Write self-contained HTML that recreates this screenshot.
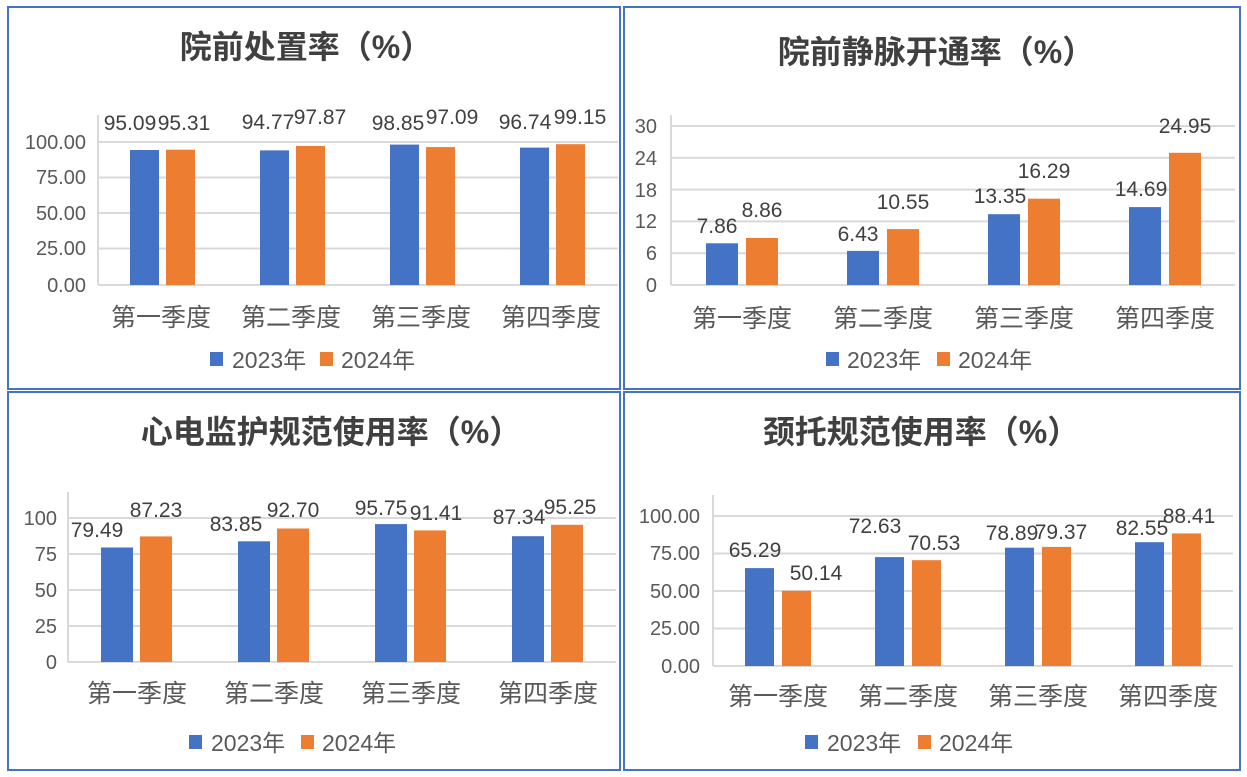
<!DOCTYPE html>
<html><head><meta charset="utf-8"><style>
html,body{margin:0;padding:0;background:#fff}
svg{display:block}
text{font-family:"Liberation Sans","Noto Sans CJK SC",sans-serif;fill:#595959}
.t{font-size:32px;font-weight:bold;fill:#404040;text-anchor:middle}
.v{font-size:21px;text-anchor:middle;fill:#404040}
.y{font-size:20px;text-anchor:end}
.c{font-size:25px;text-anchor:middle}
.l{font-size:23px}
.g{stroke:#d9d9d9;stroke-width:2}
.b{fill:#4472c4}.o{fill:#ed7d31}
</style></head><body>
<svg width="1247" height="777" viewBox="0 0 1247 777" xmlns="http://www.w3.org/2000/svg">
<rect x="0" y="0" width="1247" height="777" fill="#fff"/>
<g fill="none" stroke="#4472c4" stroke-width="2">
<rect x="8" y="7" width="612" height="382"/>
<rect x="624" y="7" width="616" height="382"/>
<rect x="8" y="392" width="612" height="378"/>
<rect x="624" y="392" width="616" height="378"/>
</g>

<!-- Panel 1 -->
<text class="t" x="306" y="58">院前处置率（%）</text>
<line class="g" x1="98" y1="142" x2="618" y2="142"/>
<line class="g" x1="98" y1="177.5" x2="618" y2="177.5"/>
<line class="g" x1="98" y1="213" x2="618" y2="213"/>
<line class="g" x1="98" y1="248.5" x2="618" y2="248.5"/>
<line class="g" x1="98" y1="285" x2="618" y2="285"/>
<line class="g" x1="98" y1="115" x2="98" y2="285"/>
<text class="y" x="86" y="149">100.00</text>
<text class="y" x="86" y="184">75.00</text>
<text class="y" x="86" y="220">50.00</text>
<text class="y" x="86" y="255">25.00</text>
<text class="y" x="86" y="292">0.00</text>
<rect class="b" x="130" y="150" width="29" height="135"/>
<rect class="o" x="166" y="149.7" width="29" height="135.3"/>
<rect class="b" x="260" y="150.4" width="29" height="134.6"/>
<rect class="o" x="296" y="146" width="29" height="139"/>
<rect class="b" x="390" y="144.6" width="29" height="140.4"/>
<rect class="o" x="426" y="147.1" width="29" height="137.9"/>
<rect class="b" x="520" y="147.6" width="29" height="137.4"/>
<rect class="o" x="556" y="144.2" width="29" height="140.8"/>
<text class="v" x="130" y="130">95.09</text>
<text class="v" x="184" y="130">95.31</text>
<text class="v" x="268" y="129">94.77</text>
<text class="v" x="320" y="124">97.87</text>
<text class="v" x="398" y="130">98.85</text>
<text class="v" x="452" y="124">97.09</text>
<text class="v" x="525" y="129">96.74</text>
<text class="v" x="580" y="124">99.15</text>
<text class="c" x="161" y="326">第一季度</text>
<text class="c" x="291" y="326">第二季度</text>
<text class="c" x="421" y="326">第三季度</text>
<text class="c" x="551" y="326">第四季度</text>
<rect class="b" x="210" y="352" width="13" height="14"/>
<text class="l" x="232" y="368">2023年</text>
<rect class="o" x="320" y="352" width="13" height="14"/>
<text class="l" x="341" y="368">2024年</text>

<!-- Panel 2 -->
<text class="t" x="936" y="63">院前静脉开通率（%）</text>
<line class="g" x1="671" y1="126" x2="1235" y2="126"/>
<line class="g" x1="671" y1="157.8" x2="1235" y2="157.8"/>
<line class="g" x1="671" y1="189.6" x2="1235" y2="189.6"/>
<line class="g" x1="671" y1="221.4" x2="1235" y2="221.4"/>
<line class="g" x1="671" y1="253.2" x2="1235" y2="253.2"/>
<line class="g" x1="671" y1="285" x2="1235" y2="285"/>
<line class="g" x1="671" y1="115" x2="671" y2="285"/>
<text class="y" x="657" y="133">30</text>
<text class="y" x="657" y="165">24</text>
<text class="y" x="657" y="197">18</text>
<text class="y" x="657" y="228">12</text>
<text class="y" x="657" y="260">6</text>
<text class="y" x="657" y="292">0</text>
<rect class="b" x="706" y="243.3" width="32" height="41.7"/>
<rect class="o" x="746" y="238" width="32" height="47"/>
<rect class="b" x="847" y="250.9" width="32" height="34.1"/>
<rect class="o" x="887" y="229.1" width="32" height="55.9"/>
<rect class="b" x="988" y="214.2" width="32" height="70.8"/>
<rect class="o" x="1028" y="198.7" width="32" height="86.3"/>
<rect class="b" x="1129" y="207.1" width="32" height="77.9"/>
<rect class="o" x="1169" y="152.8" width="32" height="132.2"/>
<text class="v" x="717" y="233">7.86</text>
<text class="v" x="762" y="217">8.86</text>
<text class="v" x="858" y="241">6.43</text>
<text class="v" x="903" y="209">10.55</text>
<text class="v" x="1000" y="203">13.35</text>
<text class="v" x="1044" y="178">16.29</text>
<text class="v" x="1141" y="196">14.69</text>
<text class="v" x="1185" y="133">24.95</text>
<text class="c" x="742" y="327">第一季度</text>
<text class="c" x="883" y="327">第二季度</text>
<text class="c" x="1024" y="327">第三季度</text>
<text class="c" x="1165" y="327">第四季度</text>
<rect class="b" x="826" y="352" width="13" height="14"/>
<text class="l" x="847" y="368">2023年</text>
<rect class="o" x="937" y="352" width="13" height="14"/>
<text class="l" x="958" y="368">2024年</text>

<!-- Panel 3 -->
<text class="t" x="331" y="443">心电监护规范使用率（%）</text>
<line class="g" x1="68" y1="518" x2="616" y2="518"/>
<line class="g" x1="68" y1="554" x2="616" y2="554"/>
<line class="g" x1="68" y1="590" x2="616" y2="590"/>
<line class="g" x1="68" y1="626" x2="616" y2="626"/>
<line class="g" x1="68" y1="662" x2="616" y2="662"/>
<line class="g" x1="68" y1="492" x2="68" y2="662"/>
<text class="y" x="57" y="525">100</text>
<text class="y" x="57" y="561">75</text>
<text class="y" x="57" y="597">50</text>
<text class="y" x="57" y="633">25</text>
<text class="y" x="57" y="669">0</text>
<rect class="b" x="101" y="547.5" width="32" height="114.5"/>
<rect class="o" x="140" y="536.4" width="32" height="125.6"/>
<rect class="b" x="238" y="541.3" width="32" height="120.7"/>
<rect class="o" x="277" y="528.5" width="32" height="133.5"/>
<rect class="b" x="375" y="524.1" width="32" height="137.9"/>
<rect class="o" x="414" y="530.4" width="32" height="131.6"/>
<rect class="b" x="512" y="536.2" width="32" height="125.8"/>
<rect class="o" x="551" y="524.8" width="32" height="137.2"/>
<text class="v" x="97" y="537">79.49</text>
<text class="v" x="156" y="517">87.23</text>
<text class="v" x="236" y="531">83.85</text>
<text class="v" x="293" y="517">92.70</text>
<text class="v" x="381" y="515">95.75</text>
<text class="v" x="436" y="520">91.41</text>
<text class="v" x="519" y="524">87.34</text>
<text class="v" x="570" y="514">95.25</text>
<text class="c" x="137" y="702">第一季度</text>
<text class="c" x="274" y="702">第二季度</text>
<text class="c" x="411" y="702">第三季度</text>
<text class="c" x="548" y="702">第四季度</text>
<rect class="b" x="189" y="735" width="13" height="14"/>
<text class="l" x="211" y="751">2023年</text>
<rect class="o" x="301" y="735" width="13" height="14"/>
<text class="l" x="322" y="751">2024年</text>

<!-- Panel 4 -->
<text class="t" x="921" y="443">颈托规范使用率（%）</text>
<line class="g" x1="713" y1="516" x2="1233" y2="516"/>
<line class="g" x1="713" y1="553.5" x2="1233" y2="553.5"/>
<line class="g" x1="713" y1="591" x2="1233" y2="591"/>
<line class="g" x1="713" y1="628.5" x2="1233" y2="628.5"/>
<line class="g" x1="713" y1="666" x2="1233" y2="666"/>
<line class="g" x1="713" y1="495" x2="713" y2="666"/>
<text class="y" x="700" y="523">100.00</text>
<text class="y" x="700" y="560">75.00</text>
<text class="y" x="700" y="598">50.00</text>
<text class="y" x="700" y="635">25.00</text>
<text class="y" x="700" y="673">0.00</text>
<rect class="b" x="745" y="568.1" width="29" height="97.9"/>
<rect class="o" x="782" y="590.8" width="29" height="75.2"/>
<rect class="b" x="875" y="557.1" width="29" height="108.9"/>
<rect class="o" x="912" y="560.2" width="29" height="105.8"/>
<rect class="b" x="1005" y="547.7" width="29" height="118.3"/>
<rect class="o" x="1042" y="546.9" width="29" height="119.1"/>
<rect class="b" x="1135" y="542.2" width="29" height="123.8"/>
<rect class="o" x="1172" y="533.4" width="29" height="132.6"/>
<text class="v" x="755" y="557">65.29</text>
<text class="v" x="816" y="580">50.14</text>
<text class="v" x="875" y="533">72.63</text>
<text class="v" x="934" y="550">70.53</text>
<text class="v" x="1012" y="540">78.89</text>
<text class="v" x="1061" y="539">79.37</text>
<text class="v" x="1142" y="535">82.55</text>
<text class="v" x="1189" y="523">88.41</text>
<text class="c" x="778" y="705">第一季度</text>
<text class="c" x="908" y="705">第二季度</text>
<text class="c" x="1038" y="705">第三季度</text>
<text class="c" x="1168" y="705">第四季度</text>
<rect class="b" x="805" y="735" width="13" height="14"/>
<text class="l" x="827" y="751">2023年</text>
<rect class="o" x="918" y="735" width="13" height="14"/>
<text class="l" x="939" y="751">2024年</text>
</svg>
</body></html>
